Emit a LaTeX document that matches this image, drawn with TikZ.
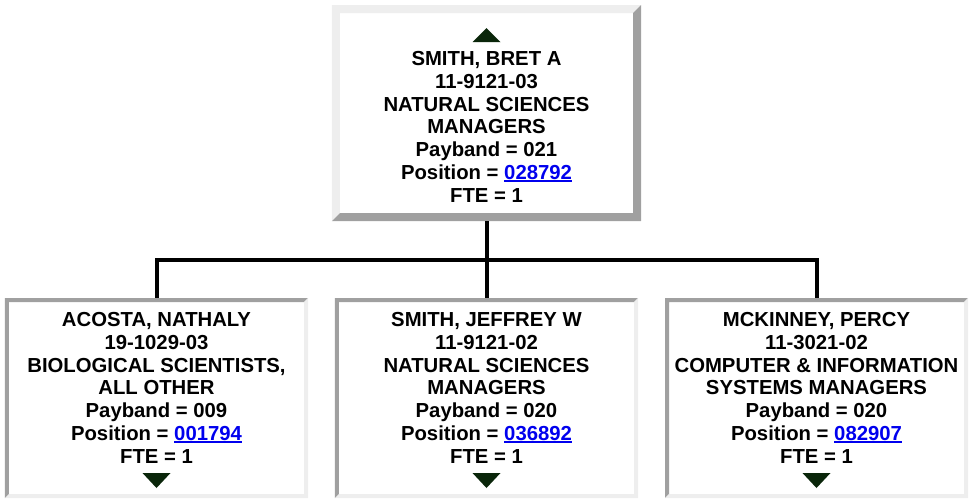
\documentclass[tikz,border=0pt]{standalone}
\usepackage{fontspec}
\setmainfont{Liberation Sans}
\definecolor{bevellight}{HTML}{EEEEEE}
\definecolor{beveldark}{HTML}{A0A0A0}
\definecolor{arrowgreen}{HTML}{0A260A}
\definecolor{linkblue}{HTML}{0000EE}

% underlined position number
\newcommand{\poslink}[1]{\textcolor{linkblue}{\setbox0\hbox{#1}\rlap{\rule[-1.5pt]{\wd0}{1.1pt}}\box0}}
% two-tone border: node, top-left colour, bottom-right colour, thickness
\newcommand{\bevelframe}[4]{%
  \fill[#2] (#1.south west) -- (#1.north west) -- (#1.north east)
    -- ([xshift=-#4,yshift=-#4]#1.north east) -- ([xshift=#4,yshift=-#4]#1.north west)
    -- ([xshift=#4,yshift=#4]#1.south west) -- cycle;
  \fill[#3] (#1.north east) -- (#1.south east) -- (#1.south west)
    -- ([xshift=#4,yshift=#4]#1.south west) -- ([xshift=-#4,yshift=#4]#1.south east)
    -- ([xshift=-#4,yshift=-#4]#1.north east) -- cycle;}

\begin{document}
\begin{tikzpicture}[x=0.2mm, y=-0.2mm,
    frame/.style={fill=white, inner sep=0pt, outer sep=0pt, minimum width=60.6mm, minimum height=40mm},
    entry/.style={align=center, anchor=north, inner sep=0pt, font=\bfseries\fontsize{11.55}{12.95}\selectfont},
    tree/.style={line width=0.8mm}]
    \useasboundingbox (0,0) rectangle (969,498);

    % Boxes
    \node[frame, minimum width=61.8mm, minimum height=43.2mm] (mgr) at (486.5,113) {};
    \node[frame] (r1) at (156.5,398) {};
    \node[frame] (r2) at (486.5,398) {};
    \node[frame] (r3) at (816.5,398) {};

    \bevelframe{mgr}{bevellight}{beveldark}{1.6mm}
    \bevelframe{r1}{beveldark}{bevellight}{0.8mm}
    \bevelframe{r2}{beveldark}{bevellight}{0.8mm}
    \bevelframe{r3}{beveldark}{bevellight}{0.8mm}

    % Reporting lines
    \coordinate (bus) at (486.5,260);
    \draw[tree] (mgr.south) -- (bus);
    \draw[tree] (bus) -| (r1.north);
    \draw[tree] (bus) -- (r2.north);
    \draw[tree] (bus) -| (r3.north);

    % Up / down markers
    \fill[arrowgreen] ([xshift=-2.8mm,yshift=-7.4mm]mgr.north) -- ([xshift=2.8mm,yshift=-7.4mm]mgr.north) -- ([yshift=-4.6mm]mgr.north) -- cycle;
    \foreach \n in {r1,r2,r3}
        \fill[arrowgreen] ([xshift=-2.8mm,yshift=5mm]\n.south) -- ([xshift=2.8mm,yshift=5mm]\n.south) -- ([yshift=2mm]\n.south) -- cycle;

    % Entries
    \node[entry] (mgrtxt) at (486.5,51) {SMITH, BRET A\\11-9121-03\\NATURAL SCIENCES\\MANAGERS\\Payband = 021\\Position = \poslink{028792}\\FTE = 1};
    \node[entry] (r1txt) at (156.5,312) {ACOSTA, NATHALY\\19-1029-03\\BIOLOGICAL SCIENTISTS,\\ALL OTHER\\Payband = 009\\Position = \poslink{001794}\\FTE = 1};
    \node[entry] (r2txt) at (486.5,312) {SMITH, JEFFREY W\\11-9121-02\\NATURAL SCIENCES\\MANAGERS\\Payband = 020\\Position = \poslink{036892}\\FTE = 1};
    \node[entry] (r3txt) at (816.5,312) {MCKINNEY, PERCY\\11-3021-02\\COMPUTER \& INFORMATION\\SYSTEMS MANAGERS\\Payband = 020\\Position = \poslink{082907}\\FTE = 1};
\end{tikzpicture}
\end{document}
